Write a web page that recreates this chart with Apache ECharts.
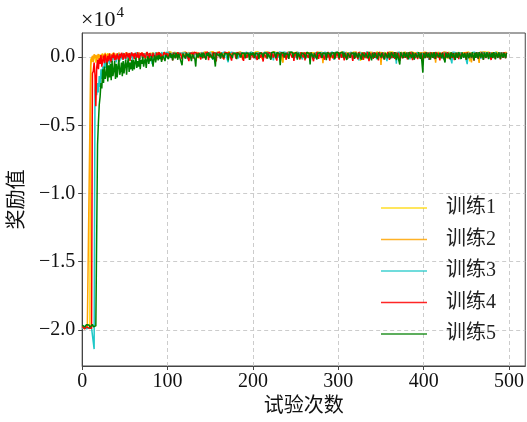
<!DOCTYPE html>
<html>
<head>
<meta charset="utf-8">
<script src="https://cdn.jsdelivr.net/npm/echarts@6/dist/echarts.min.js"></script>
<style>
    html, body { margin: 0; padding: 0; background: #fff; }
    #chart { width: 527px; height: 422px; }
</style>
</head>
<body>
<div id="chart"></div>
<script>
// tick labels
const xTicks = [0, 100, 200, 300, 400, 500]
const yTicks = [-20000, -15000, -10000, -5000, 0]
const seriesNames = ['训练1', '训练2', '训练3', '训练4', '训练5']

// reward per episode, episode = array index
const train1 = [
    -19800,-19850,-19760,-19900,-19820,-19870,-19790,-19880,-19840,-19900,-200,-50,-350,100,-150,50,-420,120,-80,200,
    -250,80,-120,230,-60,150,-300,40,180,-90,260,10,-180,140,220,-40,300,90,-130,250,
    120,-60,280,170,-220,200,60,310,-20,150,240,-110,330,180,70,260,-50,210,300,130,
    40,270,190,-80,320,150,230,100,-30,290,210,340,80,180,-140,260,310,150,220,60,
    300,170,250,-20,280,360,120,200,330,90,240,310,-60,270,190,350,140,220,300,80,
    260,340,180,230,400,110,290,320,200,360,150,270,-40,310,240,380,190,280,330,120,
    250,370,210,300,160,340,280,60,320,230,390,180,270,350,210,300,-90,260,340,190,
    310,240,380,150,290,360,220,330,270,100,350,280,210,390,250,320,170,300,360,230,
    280,340,130,310,250,370,220,290,350,190,320,260,400,240,300,60,330,280,360,210,
    290,350,240,310,170,380,270,330,220,300,360,250,320,140,290,370,230,310,280,350,
    260,320,190,360,290,240,380,310,200,340,270,-150,300,350,230,290,370,260,320,180,
    340,280,310,220,370,250,300,350,160,320,270,380,240,310,290,-380,340,260,330,210,
    300,360,250,320,280,190,350,310,240,370,290,330,220,300,360,120,280,340,260,310,
    350,230,300,380,270,320,210,340,290,360,250,310,170,330,280,370,240,300,350,260,
    320,200,360,290,340,250,310,380,230,300,270,350,-60,320,280,360,240,310,340,270,
    300,350,220,330,280,370,260,310,190,350,290,340,240,300,370,270,320,210,360,290,
    330,250,310,380,260,340,-280,300,350,230,320,280,370,240,310,290,350,200,330,270,
    310,360,240,300,340,270,380,220,320,290,350,260,310,180,340,300,370,250,320,280,
    350,230,300,370,260,330,290,-20,340,280,360,240,310,300,350,270,320,210,360,290,
    330,260,300,370,240,340,280,310,360,220,300,350,270,330,190,320,290,370,250,310,
    340,280,360,230,310,290,350,260,320,380,240,300,340,270,310,360,210,330,290,350,
    260,320,370,240,300,340,280,310,-120,350,270,330,290,360,230,310,340,260,300,370,
    280,330,250,350,300,210,360,290,320,270,340,240,310,370,-330,300,350,260,320,290,
    340,270,310,360,230,300,350,280,320,260,370,290,310,340,250,300,360,270,330,290,
    310,350,240,320,290,370,260,330,300,280,350,240,310,340,290,320,270,350
]
const train2 = [
    -19850,-19780,-19900,-19820,-19760,-19880,-19830,-19910,-19800,-5200,-600,-150,80,-380,200,-50,150,-250,60,220,
    -120,170,-300,90,250,-80,140,300,-200,60,210,-30,280,120,-160,240,50,310,-70,190,
    270,20,-140,330,160,240,-40,290,100,210,-90,320,180,260,30,300,140,-60,250,350,
    190,70,280,-120,310,200,140,330,260,-20,290,180,350,110,240,300,-70,270,210,330,
    160,280,50,320,240,370,-90,300,200,260,340,130,280,310,220,-10,360,250,300,180,
    330,270,210,380,150,300,250,340,-60,290,360,200,310,260,390,230,280,120,340,300,
    220,360,280,310,-150,250,340,290,200,370,260,320,180,300,350,240,310,100,280,360,
    250,300,340,190,380,270,310,220,350,290,-40,330,260,300,370,210,340,280,320,250,
    360,230,300,340,270,-110,310,380,240,290,350,200,320,270,360,300,150,330,280,310,
    240,370,290,330,210,300,350,260,-200,320,280,360,230,310,340,270,300,190,350,290,
    320,260,370,240,300,340,210,330,290,360,250,310,280,-30,350,230,300,370,260,320,
    290,340,220,310,360,270,300,-90,330,250,370,290,320,240,300,-420,350,280,310,260,
    340,290,370,230,300,330,260,350,200,310,280,360,240,320,290,340,-150,300,270,350,
    310,250,330,280,370,220,300,340,260,310,290,350,190,320,280,360,240,310,330,270,
    300,350,-460,320,260,340,290,370,230,310,280,330,250,360,300,270,340,210,320,290,
    350,260,310,280,370,240,330,290,-70,300,350,270,320,230,360,290,310,250,340,280,
    300,370,220,330,280,350,260,310,290,340,-180,300,270,360,240,320,290,350,210,310,
    330,280,360,250,300,340,270,310,220,350,-580,320,290,370,240,300,340,260,310,280,
    350,230,320,290,360,270,300,340,250,310,380,280,320,-50,300,350,260,330,290,240,
    310,360,280,330,250,300,370,270,320,290,340,210,310,350,280,300,260,360,320,290,
    240,330,300,350,280,310,-100,340,270,320,290,360,230,310,-420,300,350,270,330,290,
    310,260,340,290,370,240,300,330,280,350,260,310,-220,340,290,360,250,320,280,300,
    350,270,310,240,330,290,360,280,300,340,250,320,290,370,260,310,-400,300,350,280,
    320,260,340,290,300,-430,360,270,310,330,250,300,350,280,320,240,340,290,310,360,
    270,320,290,350,240,310,340,280,300,360,260,330,290,310,350,270,320,300
]
const train3 = [
    -19900,-19820,-19870,-19760,-19850,-19920,-19800,-19880,-19840,-19790,-19900,-19860,-19830,-19880,-21400,-2400,-1600,-2800,-1900,-2600,
    -1400,-2200,-900,-1600,-700,-1100,-400,-800,-200,-600,-300,50,-500,-150,100,-350,-50,180,-250,20,
    -400,150,-100,240,-300,80,200,-180,300,-60,130,-250,270,40,-120,220,-30,310,110,-200,
    260,60,-90,330,180,-20,240,300,-150,210,100,350,-60,280,170,-10,320,230,140,-80,
    250,90,-520,310,200,-40,340,270,150,300,60,220,-110,360,250,180,290,-20,330,210,
    280,350,140,300,-80,260,370,220,310,180,340,250,-10,300,380,230,270,330,150,290,
    350,210,310,-120,280,360,240,300,190,340,270,-30,320,250,370,210,300,340,160,290,
    330,260,380,220,-60,310,270,350,200,300,360,240,320,-200,280,350,190,310,270,340,
    230,300,360,-50,290,320,260,370,210,300,340,-380,280,310,250,360,220,330,290,300,
    350,240,310,-100,280,370,260,320,200,340,290,310,250,360,-30,300,330,270,350,220,
    310,280,360,-160,290,340,250,300,370,230,320,280,-70,350,260,310,290,340,200,330,
    270,360,300,240,-250,310,350,280,320,260,-40,370,290,300,340,230,310,350,270,290,
    320,-90,360,250,300,330,280,370,210,310,290,-60,350,260,320,300,240,340,-180,310,
    280,350,230,300,360,-20,270,330,310,250,340,290,-140,320,370,260,300,350,220,310,
    340,270,300,-90,360,240,320,290,350,-30,280,310,260,370,300,-210,330,250,310,350,
    280,320,-60,260,340,300,370,230,310,290,350,-120,270,320,300,360,240,330,-40,290,
    310,350,260,300,-250,340,280,370,230,320,290,310,-80,360,250,300,340,270,320,-20,
    290,350,240,310,330,-160,280,360,300,250,340,-50,310,290,370,230,320,-300,280,340,
    300,260,350,-90,310,280,370,240,-480,330,290,300,350,-60,270,320,310,250,360,-30,
    290,340,260,310,-180,350,280,320,240,370,300,-70,330,290,310,260,350,-140,300,280,
    340,-40,310,260,360,290,-210,320,300,350,240,310,-90,340,280,370,260,300,-30,330,
    290,350,-110,270,310,340,300,250,360,-60,320,280,310,-470,350,240,300,330,-20,290,
    360,270,310,-150,340,290,300,-40,250,350,320,-520,280,310,370,260,-90,330,300,290,
    350,240,-60,310,340,280,300,-130,360,270,320,290,-40,310,350,260,300,-110,340,280,
    320,-50,300,360,270,330,290,-80,310,350,250,300,-30,340,280,320,-60,300
]
const train4 = [
    -19750,-19880,-19800,-19920,-19840,-19770,-19890,-19810,-19860,-19930,-19800,-19870,-1200,-1050,-400,-1300,-3600,-800,-200,-900,
    -100,-500,150,-700,-250,100,-450,200,-150,-600,80,-300,250,-100,-400,180,-50,300,-250,120,
    -180,260,40,-350,220,-80,310,150,-200,280,60,-120,340,200,-40,290,-280,180,330,50,
    250,-150,300,190,-60,350,230,-240,280,120,340,-20,260,310,-100,200,370,150,-310,290,
    220,330,-50,280,170,360,-180,300,240,100,350,-30,270,310,-220,190,340,260,120,300,
    380,-90,290,240,330,170,-250,310,270,360,200,-40,340,280,120,300,370,-160,250,320,
    290,-60,350,220,310,-300,270,340,190,300,-110,360,240,320,280,-20,330,260,370,-180,
    300,240,350,-70,280,320,210,370,-230,290,340,260,-40,310,360,200,300,-320,280,340,
    250,370,-90,300,330,270,-180,350,220,310,290,-50,360,240,320,-260,300,280,370,210,
    -120,330,290,350,260,-30,310,370,240,-280,300,340,270,-60,320,290,360,-190,250,310,
    340,-80,300,270,370,-220,290,330,250,-40,360,310,-330,280,340,260,-100,300,370,230,
    310,-170,290,350,-50,270,330,300,-260,360,240,310,-90,340,280,370,-30,300,250,-200,
    330,290,-110,360,270,310,-40,340,-290,300,250,370,-70,320,290,-180,350,260,310,-20,
    340,-240,300,280,360,-60,310,-150,330,270,370,-310,290,320,-30,350,260,-130,300,340,
    -80,290,360,250,-200,310,330,-40,370,280,-270,300,340,260,-100,320,290,-50,360,310,
    240,-190,330,300,-60,350,280,-240,310,270,370,-110,290,340,-30,320,260,-280,300,350,
    -70,310,290,-160,360,250,330,-40,300,-220,340,280,310,-90,370,260,-300,290,330,-20,
    300,-130,350,270,-60,320,290,-250,360,240,310,-80,340,300,-180,280,330,-30,370,260,
    -210,310,290,-70,340,270,-140,360,300,-40,320,250,-290,330,310,-100,280,350,-60,300,
    270,-170,340,310,-30,360,280,-230,300,330,-80,290,350,-150,270,320,-40,310,360,-260,
    300,-90,340,280,-30,330,300,-200,350,260,-60,320,290,-140,370,280,-40,310,340,-250,
    290,-70,350,300,-180,320,270,-30,360,310,-120,280,340,-60,300,330,-230,290,350,-40,
    310,-160,280,340,-80,300,370,-30,320,260,-200,350,290,-90,310,340,-50,280,330,-270,
    300,-60,350,290,-140,320,270,-40,360,310,-190,300,340,-80,290,330,-30,350,270,-220,
    310,-70,340,300,-130,290,360,-40,320,280,-180,330,300,-60,350,290,-90,320
]
const train5 = [
    -19650,-19720,-19600,-19780,-19680,-19620,-19750,-19700,-19640,-19800,-19660,-19720,-19590,-19760,-19680,-19820,-19700,-19750,-6400,-4800,
    -3500,-2900,-1900,-2300,-900,-1900,-700,-1600,-1300,-400,-1800,-600,-1500,-500,-1700,-300,-1400,-1000,-300,-1600,
    -500,-1500,-700,-200,-1300,-1000,-400,-1400,-300,-1200,-600,-200,-1300,-500,-100,-1100,-400,-900,-200,-1000,
    -200,-900,-400,-50,-800,-300,-700,-100,-900,-200,-500,20,-700,-300,-100,-800,-200,50,-500,-100,
    -300,60,-200,-700,-100,120,-400,-50,100,-250,150,-150,30,-350,80,200,-100,-300,150,40,
    220,-150,100,280,-50,180,-250,260,90,-100,300,150,-200,240,30,170,-80,-600,250,110,
    190,-120,300,60,220,-50,270,130,-300,200,320,80,-150,-700,250,140,-40,290,180,20,
    260,-100,310,150,230,-200,280,90,340,-30,190,260,120,-150,300,220,-700,270,160,310,
    80,250,-120,300,200,340,-50,270,150,310,230,-250,290,180,350,100,-80,260,320,200,
    280,-160,310,240,350,120,-40,290,200,330,260,-100,300,370,180,250,-220,310,280,140,
    330,240,-60,300,270,350,190,-150,310,260,340,220,-30,290,360,170,300,-120,250,320,
    280,-200,340,230,300,360,150,-80,310,270,330,240,-600,290,350,200,310,-40,260,320,
    300,190,-140,340,270,310,360,-30,250,300,220,330,-190,290,350,260,-70,310,280,340,
    200,300,-110,350,270,310,240,-550,330,290,360,-40,260,320,300,-180,280,350,220,310,
    340,-60,290,300,370,250,-230,320,280,340,210,-20,300,360,270,310,-150,330,250,290,
    350,-90,280,310,240,360,-40,300,330,260,-210,290,350,310,-70,270,340,220,300,-130,
    320,280,360,-50,300,250,340,-190,310,290,370,-30,270,330,300,-110,350,260,310,-240,
    290,340,-60,300,360,270,-150,320,290,350,-20,310,240,330,-180,300,370,260,-80,320,
    290,-120,340,300,260,-40,350,310,-230,280,330,300,-550,340,270,310,-90,360,290,-30,
    320,260,-170,340,300,290,-60,350,310,-200,270,330,300,-40,360,280,-130,310,340,-1150,
    300,270,-80,340,310,-30,290,360,-190,320,280,-60,350,300,-140,310,270,340,-20,300,
    330,-100,290,360,280,-400,310,340,-50,300,270,-170,350,320,-30,290,340,-210,310,280,
    -60,350,300,270,-140,330,310,-40,290,360,-190,300,340,-80,280,320,-30,350,300,-250,
    310,-70,340,290,-120,360,300,-40,320,280,-200,330,310,-60,350,290,-150,300,340,-30,
    310,-90,360,280,-170,320,300,-50,340,290,-130,310,350,-40,300,330,-80,310
]

const allRuns = [train1, train2, train3, train4, train5]
const lineColors = ['#FFD700', '#FFA500', '#1EC8C8', '#FF0000', '#008000']
const fontFamily = '"Liberation Serif", "Noto Sans CJK SC", serif'

const chart = echarts.init(document.getElementById('chart'), null, { renderer: 'canvas' })

chart.setOption({
    animation: false,
    textStyle: { fontFamily: fontFamily },
    grid: {
        left: 81,
        right: 1,
        top: 33,
        bottom: 56,
        show: true,
        borderColor: '#444',
        borderWidth: 1,
        backgroundColor: 'transparent'
    },
    graphic: [{
        type: 'text',
        left: 81,
        top: 6,
        style: {
            text: '{a|×10}{b|4}',
            fontSize: 22,
            fontFamily: fontFamily,
            fill: '#111',
            rich: {
                a: { fontSize: 22, fontFamily: fontFamily, color: '#111', verticalAlign: 'bottom' },
                b: { fontSize: 15, fontFamily: fontFamily, color: '#111', verticalAlign: 'top', padding: [0, 0, 10, 1] }
            }
        }
    }],
    legend: {
        orient: 'vertical',
        left: 376,
        top: 192,
        icon: 'rect',
        itemWidth: 46,
        itemHeight: 1.5,
        itemGap: 9.5,
        itemStyle: { opacity: 0.85 },
        data: seriesNames,
        textStyle: { fontSize: 20, color: '#222', fontFamily: fontFamily, padding: [0, 0, 0, 14], lineHeight: 22 }
    },
    xAxis: {
        type: 'value',
        min: 0,
        max: 519,
        name: '试验次数',
        nameLocation: 'middle',
        nameGap: 27,
        nameTextStyle: { fontSize: 20, color: '#111', fontFamily: fontFamily },
        axisLine: { onZero: false, lineStyle: { color: '#444', width: 1 } },
        axisTick: { customValues: xTicks, length: 4, lineStyle: { color: '#444' } },
        axisLabel: { customValues: xTicks, fontSize: 20, color: '#111', margin: 6 },
        splitLine: { show: true, lineStyle: { type: [4, 3], color: '#cccccc', width: 1 } }
    },
    yAxis: {
        type: 'value',
        min: -22640,
        max: 1760,
        name: '奖励值',
        nameLocation: 'middle',
        nameGap: 52,
        nameTextStyle: { fontSize: 20, color: '#111', fontFamily: fontFamily },
        axisLine: { show: true, onZero: false, lineStyle: { color: '#444', width: 1 } },
        axisTick: { show: true, customValues: yTicks, length: 4, lineStyle: { color: '#444' } },
        axisLabel: {
            customValues: yTicks,
            fontSize: 20,
            color: '#111',
            margin: 7,
            formatter: function (v) {
                return (v / 10000).toFixed(1).replace('-', '\u2212')
            }
        },
        splitLine: { show: true, lineStyle: { type: [4, 3], color: '#cccccc', width: 1 } }
    },
    series: allRuns.map(function (run, k) {
        return {
            name: seriesNames[k],
            type: 'line',
            symbol: 'none',
            color: lineColors[k],
            lineStyle: { width: 1.5, color: lineColors[k] },
            data: run.map(function (v, i) { return [i, v] })
        }
    })
})
</script>
</body>
</html>
